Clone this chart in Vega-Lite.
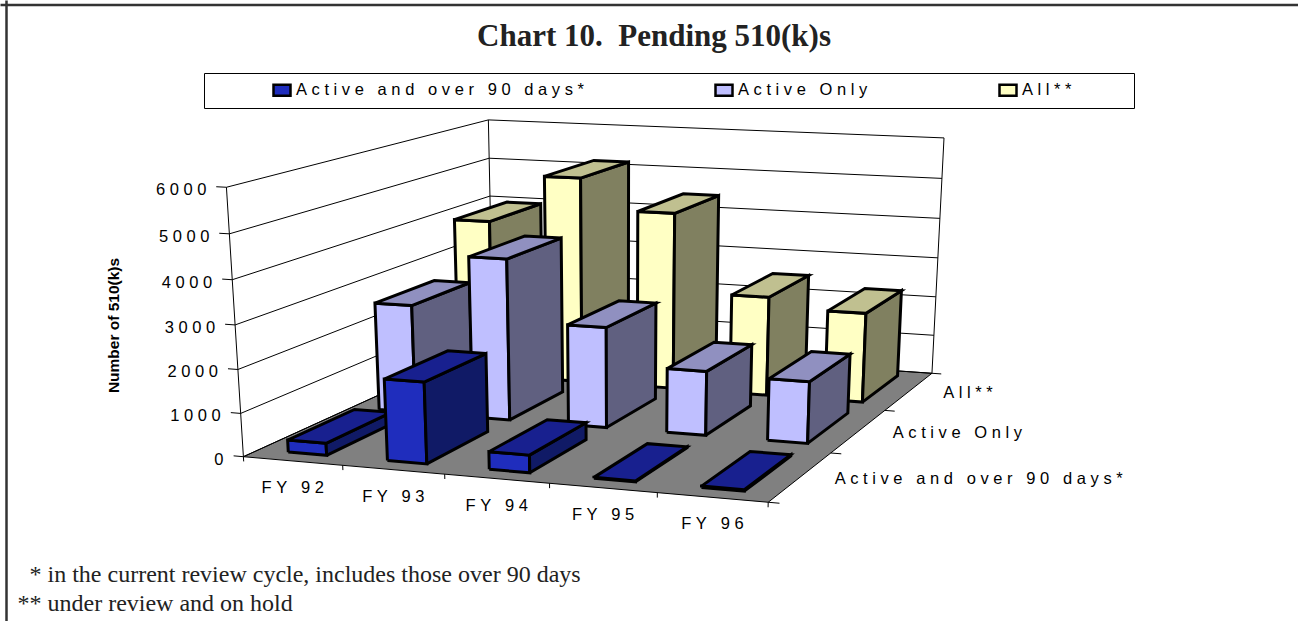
{
"$schema":"https://vega.github.io/schema/vega-lite/v6.json",
"width":1298,"height":621,"padding":0,"autosize":{"type":"none"},"background":"white",
"config":{"view":{"stroke":null},"font":"Liberation Sans"},
"title":{"text":"Chart 10.\u00a0\u00a0Pending 510(k)s","font":"Liberation Serif","fontWeight":"bold","fontSize":31,"color":"#222222","anchor":"middle","baseline":"alphabetic","offset":-77,"dx":5},
"datasets":{
"bars":[
{"year":"FY 92","series":"All**","value":3950},{"year":"FY 93","series":"All**","value":5140},{"year":"FY 94","series":"All**","value":4390},{"year":"FY 95","series":"All**","value":2460},{"year":"FY 96","series":"All**","value":2210},
{"year":"FY 92","series":"Active Only","value":2610},{"year":"FY 93","series":"Active Only","value":3850},{"year":"FY 94","series":"Active Only","value":2390},{"year":"FY 95","series":"Active Only","value":1520},{"year":"FY 96","series":"Active Only","value":1450},
{"year":"FY 92","series":"Active and over 90 days*","value":280},{"year":"FY 93","series":"Active and over 90 days*","value":1860},{"year":"FY 94","series":"Active and over 90 days*","value":400},{"year":"FY 95","series":"Active and over 90 days*","value":20},{"year":"FY 96","series":"Active and over 90 days*","value":30}
],
"floor":[{"n":0,"u":0,"w":0,"h":0},{"n":1,"u":1,"w":0,"h":0},{"n":2,"u":1,"w":1,"h":0},{"n":3,"u":0,"w":1,"h":0},{"n":4,"u":0,"w":0,"h":0}],
"frame":[
{"p":"g0","n":0,"u":0,"w":0,"h":0},{"p":"g0","n":1,"u":0,"w":1,"h":0},{"p":"g0","n":2,"u":1,"w":1,"h":0},
{"p":"g1","n":0,"u":0,"w":0,"h":1000},{"p":"g1","n":1,"u":0,"w":1,"h":1000},{"p":"g1","n":2,"u":1,"w":1,"h":1000},
{"p":"g2","n":0,"u":0,"w":0,"h":2000},{"p":"g2","n":1,"u":0,"w":1,"h":2000},{"p":"g2","n":2,"u":1,"w":1,"h":2000},
{"p":"g3","n":0,"u":0,"w":0,"h":3000},{"p":"g3","n":1,"u":0,"w":1,"h":3000},{"p":"g3","n":2,"u":1,"w":1,"h":3000},
{"p":"g4","n":0,"u":0,"w":0,"h":4000},{"p":"g4","n":1,"u":0,"w":1,"h":4000},{"p":"g4","n":2,"u":1,"w":1,"h":4000},
{"p":"g5","n":0,"u":0,"w":0,"h":5000},{"p":"g5","n":1,"u":0,"w":1,"h":5000},{"p":"g5","n":2,"u":1,"w":1,"h":5000},
{"p":"g6","n":0,"u":0,"w":0,"h":6000},{"p":"g6","n":1,"u":0,"w":1,"h":6000},{"p":"g6","n":2,"u":1,"w":1,"h":6000},
{"p":"v0","n":0,"u":0,"w":0,"h":0},{"p":"v0","n":1,"u":0,"w":0,"h":6000},
{"p":"v1","n":0,"u":0,"w":1,"h":0},{"p":"v1","n":1,"u":0,"w":1,"h":6000},
{"p":"v2","n":0,"u":1,"w":1,"h":0},{"p":"v2","n":1,"u":1,"w":1,"h":6000},
{"p":"t0","n":0,"u":0,"w":0,"h":0},{"p":"t0","n":1,"u":-0.02,"w":0,"h":0},
{"p":"t1","n":0,"u":0,"w":0,"h":1000},{"p":"t1","n":1,"u":-0.02,"w":0,"h":1000},
{"p":"t2","n":0,"u":0,"w":0,"h":2000},{"p":"t2","n":1,"u":-0.02,"w":0,"h":2000},
{"p":"t3","n":0,"u":0,"w":0,"h":3000},{"p":"t3","n":1,"u":-0.02,"w":0,"h":3000},
{"p":"t4","n":0,"u":0,"w":0,"h":4000},{"p":"t4","n":1,"u":-0.02,"w":0,"h":4000},
{"p":"t5","n":0,"u":0,"w":0,"h":5000},{"p":"t5","n":1,"u":-0.02,"w":0,"h":5000},
{"p":"t6","n":0,"u":0,"w":0,"h":6000},{"p":"t6","n":1,"u":-0.02,"w":0,"h":6000},
{"p":"x0","n":0,"u":0,"w":0,"h":0},{"p":"x0","n":1,"u":0,"w":0,"h":-110},
{"p":"x1","n":0,"u":0.2,"w":0,"h":0},{"p":"x1","n":1,"u":0.2,"w":0,"h":-110},
{"p":"x2","n":0,"u":0.4,"w":0,"h":0},{"p":"x2","n":1,"u":0.4,"w":0,"h":-110},
{"p":"x3","n":0,"u":0.6,"w":0,"h":0},{"p":"x3","n":1,"u":0.6,"w":0,"h":-110},
{"p":"x4","n":0,"u":0.8,"w":0,"h":0},{"p":"x4","n":1,"u":0.8,"w":0,"h":-110},
{"p":"x5","n":0,"u":1,"w":0,"h":0},{"p":"x5","n":1,"u":1,"w":0,"h":-110},
{"p":"z0","n":0,"u":1,"w":0,"h":0},{"p":"z0","n":1,"u":1.02,"w":0,"h":0},
{"p":"z1","n":0,"u":1,"w":0.3333,"h":0},{"p":"z1","n":1,"u":1.02,"w":0.3333,"h":0},
{"p":"z2","n":0,"u":1,"w":0.6667,"h":0},{"p":"z2","n":1,"u":1.02,"w":0.6667,"h":0},
{"p":"z3","n":0,"u":1,"w":1,"h":0},{"p":"z3","n":1,"u":1.02,"w":1,"h":0}
],
"valueTicks":[{"name":"0","u":0,"w":0,"h":0},{"name":"1000","u":0,"w":0,"h":1000},{"name":"2000","u":0,"w":0,"h":2000},{"name":"3000","u":0,"w":0,"h":3000},{"name":"4000","u":0,"w":0,"h":4000},{"name":"5000","u":0,"w":0,"h":5000},{"name":"6000","u":0,"w":0,"h":6000}],
"yearTicks":[{"name":"FY 92","u":0.1,"w":0,"h":0},{"name":"FY 93","u":0.3,"w":0,"h":0},{"name":"FY 94","u":0.5,"w":0,"h":0},{"name":"FY 95","u":0.7,"w":0,"h":0},{"name":"FY 96","u":0.9,"w":0,"h":0}],
"seriesTicks":[{"name":"Active and over 90 days*","u":1,"w":0.1667,"h":0},{"name":"Active Only","u":1,"w":0.5,"h":0},{"name":"All**","u":1,"w":0.8333,"h":0}]
},
"encoding":{
"x":{"field":"X","type":"quantitative","scale":{"domain":[0,1298],"nice":false,"zero":false},
"axis":{"orient":"top","offset":-4.5,"title":["\u200b\u00a0\u00a0* in the current review cycle, includes those over 90 days","** under review and on hold"],"titleFont":"Liberation Serif","titleFontSize":24,"titleFontWeight":"normal","titleColor":"#222222","titleAlign":"left","titleAnchor":"start","titleX":17,"titleY":577,"titleLineHeight":29,"titleBaseline":"alphabetic","labels":false,"ticks":false,"grid":false,"domain":true,"domainColor":"#333333","domainWidth":2.5}},
"y":{"field":"Y","type":"quantitative","scale":{"domain":[621,0],"nice":false,"zero":false},
"axis":{"orient":"left","offset":-6,"title":"Number of 510(k)s","titleFont":"Liberation Sans","titleFontSize":15.5,"titleFontWeight":"bold","titleColor":"#000000","titleX":107,"titleY":325,"titleAnchor":"middle","titleAlign":"center","titleBaseline":"middle","labels":false,"ticks":false,"grid":false,"domain":true,"domainColor":"#333333","domainWidth":2.5}}
},
"layer":[
{"data":{"name":"floor"},
"transform":[
{"calculate":"1-0.0668*datum.u+0.2206*datum.w-0.043*datum.h/6000","as":"den"},
{"calculate":"(243.4+473.5*datum.u+358.4*datum.w-26.7*datum.h/6000)/datum.den","as":"X"},
{"calculate":"(456.7+12*datum.u-38*datum.w-277.5*datum.h/6000)/datum.den","as":"Y"}],
"mark":{"type":"line","fill":"#808080","stroke":"#000000","strokeWidth":1},
"encoding":{"order":{"field":"n","type":"quantitative"}}},
{"data":{"name":"frame"},
"transform":[
{"calculate":"1-0.0668*datum.u+0.2206*datum.w-0.043*datum.h/6000","as":"den"},
{"calculate":"(243.4+473.5*datum.u+358.4*datum.w-26.7*datum.h/6000)/datum.den","as":"X"},
{"calculate":"(456.7+12*datum.u-38*datum.w-277.5*datum.h/6000)/datum.den","as":"Y"}],
"mark":{"type":"line","stroke":"#000000","strokeWidth":1},
"encoding":{"detail":{"field":"p"},"order":{"field":"n","type":"quantitative"}}},
{"data":{"name":"bars"},
"transform":[
{"calculate":"indexof(['FY 92','FY 93','FY 94','FY 95','FY 96'],datum.year)","as":"i"},
{"calculate":"indexof(['Active and over 90 days*','Active Only','All**'],datum.series)","as":"s"},
{"calculate":"['front','side','top']","as":"face"},{"flatten":["face"]},
{"calculate":"[0,1,2,3,4]","as":"vert"},{"flatten":["vert"]},
{"calculate":"datum.i*0.2+0.06","as":"u0"},{"calculate":"datum.u0+0.078","as":"u1"},
{"calculate":"datum.s/3+0.052","as":"w0"},{"calculate":"datum.w0+0.24","as":"w1"},
{"calculate":"datum.vert==1||datum.vert==2","as":"isB"},
{"calculate":"datum.vert==2||datum.vert==3","as":"isT"},
{"calculate":"datum.face=='side'?datum.u1:(datum.isB?datum.u1:datum.u0)","as":"u"},
{"calculate":"datum.face=='front'?datum.w0:(datum.face=='side'?(datum.isB?datum.w1:datum.w0):(datum.isT?datum.w1:datum.w0))","as":"w"},
{"calculate":"datum.face=='top'?datum.value:(datum.isT?datum.value:0)","as":"h"},
{"calculate":"1-0.0668*datum.u+0.2206*datum.w-0.043*datum.h/6000","as":"den"},
{"calculate":"(243.4+473.5*datum.u+358.4*datum.w-26.7*datum.h/6000)/datum.den","as":"X"},
{"calculate":"(456.7+12*datum.u-38*datum.w-277.5*datum.h/6000)/datum.den","as":"Y"},
{"calculate":"datum.series+'|'+datum.face","as":"shade"},
{"calculate":"datum.year+'|'+datum.series+'|'+datum.face","as":"barFace"}],
"mark":{"type":"line","filled":true,"stroke":"#000000","strokeWidth":3,"strokeJoin":"miter"},
"encoding":{
"fill":{"field":"shade","type":"nominal","scale":{"domain":["Active and over 90 days*|front","Active and over 90 days*|side","Active and over 90 days*|top","Active Only|front","Active Only|side","Active Only|top","All**|front","All**|side","All**|top"],"range":["#1f2dbd","#101a66","#18208f","#bfbfff","#606080","#9090c0","#ffffc4","#808060","#c0c090"]},
"legend":{"values":["Active and over 90 days*|front","Active Only|front","All**|front"],"title":null,"orient":"none","legendX":204,"legendY":73,"direction":"horizontal","columns":3,"padding":7,"fillColor":"white","strokeColor":"#000000","symbolType":"M-1,-0.65H1V0.65H-1Z","symbolSize":289,"symbolStrokeColor":"#000000","symbolStrokeWidth":2.5,"symbolOffset":61,"columnPadding":69,"labelOffset":4,"labelFont":"Liberation Sans","labelFontSize":16.5,"labelColor":"#000000","labelLimit":0,
"labelExpr":"join(split(replace(split(datum.label,'|')[0],' ','\u00a0'),''),'\u00a0')+(split(datum.label,'|')[0]=='All**'?'\u00a0\u00a0\u00a0\u00a0\u00a0\u00a0\u00a0\u00a0\u00a0\u00a0\u00a0\u00a0\u200b':'')"}},
"detail":{"field":"barFace"},
"order":{"field":"vert","type":"quantitative"}}},
{"data":{"name":"valueTicks"},
"transform":[
{"calculate":"1-0.0668*datum.u+0.2206*datum.w-0.043*datum.h/6000","as":"den"},
{"calculate":"(243.4+473.5*datum.u+358.4*datum.w-26.7*datum.h/6000)/datum.den","as":"X"},
{"calculate":"(456.7+12*datum.u-38*datum.w-277.5*datum.h/6000)/datum.den","as":"Y"},
{"calculate":"join(split(replace(datum.name,' ','\u00a0'),''),'\u00a0')","as":"shown"}],
"mark":{"type":"text","font":"Liberation Sans","fontSize":16.5,"align":"right","baseline":"middle","dx":-20,"dy":3,"color":"#000000"},
"encoding":{"text":{"field":"shown"}}},
{"data":{"name":"yearTicks"},
"transform":[
{"calculate":"1-0.0668*datum.u+0.2206*datum.w-0.043*datum.h/6000","as":"den"},
{"calculate":"(243.4+473.5*datum.u+358.4*datum.w-26.7*datum.h/6000)/datum.den","as":"X"},
{"calculate":"(456.7+12*datum.u-38*datum.w-277.5*datum.h/6000)/datum.den","as":"Y"},
{"calculate":"join(split(replace(datum.name,' ','\u00a0'),''),'\u00a0')","as":"shown"}],
"mark":{"type":"text","font":"Liberation Sans","fontSize":16.5,"align":"center","baseline":"middle","dy":27,"color":"#000000"},
"encoding":{"text":{"field":"shown"}}},
{"data":{"name":"seriesTicks"},
"transform":[
{"calculate":"1-0.0668*datum.u+0.2206*datum.w-0.043*datum.h/6000","as":"den"},
{"calculate":"(243.4+473.5*datum.u+358.4*datum.w-26.7*datum.h/6000)/datum.den","as":"X"},
{"calculate":"(456.7+12*datum.u-38*datum.w-277.5*datum.h/6000)/datum.den","as":"Y"},
{"calculate":"join(split(replace(datum.name,' ','\u00a0'),''),'\u00a0')","as":"shown"}],
"mark":{"type":"text","font":"Liberation Sans","fontSize":16.5,"align":"left","baseline":"middle","dx":34,"dy":2,"color":"#000000"},
"encoding":{"text":{"field":"shown"}}}
]
}
